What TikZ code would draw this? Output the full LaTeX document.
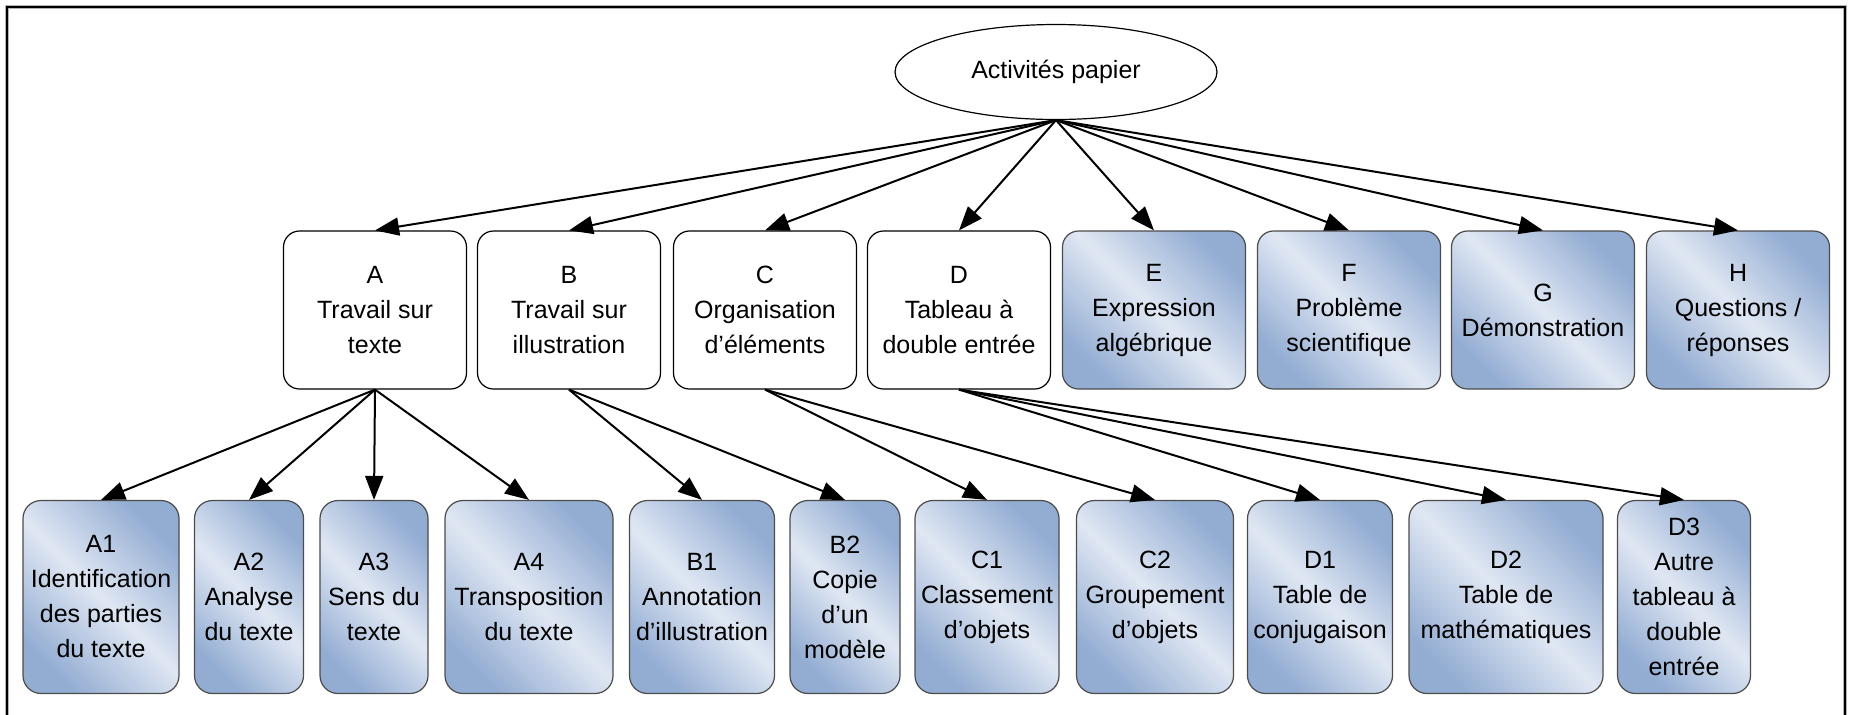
\documentclass[tikz,border=0pt]{standalone}
\usepackage{fontspec}
\setmainfont{Liberation Sans}
\usetikzlibrary{shapes.geometric,arrows.meta}

\newlength{\du}
\setlength{\du}{0.5pt}

\definecolor{boxdark}{RGB}{146,172,210}
\definecolor{boxlight}{RGB}{224,231,243}

\tikzset{
  boxfont/.style={font=\fontsize{12.5}{17.5}\selectfont},
  topnode/.style={ellipse,draw,line width=1.2\du,minimum width=322\du,minimum height=95\du,inner sep=0pt,boxfont},
  catnode/.style={draw,rounded corners=16\du,line width=1.2\du,fill=white,minimum width=183\du,minimum height=158\du,align=center,inner sep=2pt,boxfont},
  subnode/.style={draw=black!70,rounded corners=18\du,line width=1.2\du,top color=boxdark,bottom color=boxdark,middle color=boxlight,minimum height=193\du,align=center,inner sep=2pt,boxfont,shading angle=-45},
  catshaded/.style={subnode,minimum width=183\du,minimum height=158\du,rounded corners=16\du},
  link/.style={-{Triangle[length=12pt,width=9pt]},line width=2\du}
}

\begin{document}
\begin{tikzpicture}
\pgftransformxscale{1.000000}
\pgftransformyscale{-1.000000}
\useasboundingbox (0\du,0\du) rectangle (1850\du,714\du);
% frame
\draw[black!30,line width=4\du] (7\du,720\du) -- (7\du,7\du) -- (1845\du,7\du) -- (1845\du,720\du);
\draw[line width=2.2\du] (7\du,720\du) -- (7\du,7\du) -- (1845\du,7\du) -- (1845\du,720\du);
% root
\node[topnode] (top) at (1056\du,72\du){Activités papier};
% level 1
\node[catnode] (A) at (375\du,310\du){A\\Travail sur\\texte};
\node[catnode] (B) at (569\du,310\du){B\\Travail sur\\illustration};
\node[catnode] (C) at (765\du,310\du){C\\Organisation\\d’éléments};
\node[catnode] (D) at (959\du,310\du){D\\Tableau à\\double entrée};
\node[catshaded] (E) at (1154\du,310\du){E\\Expression\\algébrique};
\node[catshaded] (F) at (1349\du,310\du){F\\Problème\\scientifique};
\node[catshaded] (G) at (1543\du,310\du){G\\Démonstration};
\node[catshaded] (H) at (1738\du,310\du){H\\Questions /\\réponses};
% level 2
\node[subnode,minimum width=156\du] (A1) at (101\du,597\du){A1\\Identification\\des parties\\du texte};
\node[subnode,minimum width=109\du] (A2) at (249\du,597\du){A2\\Analyse\\du texte};
\node[subnode,minimum width=108\du] (A3) at (374\du,597\du){A3\\Sens du\\texte};
\node[subnode,minimum width=168\du] (A4) at (529\du,597\du){A4\\Transposition\\du texte};
\node[subnode,minimum width=145\du] (B1) at (702\du,597\du){B1\\Annotation\\d’illustration};
\node[subnode,minimum width=110\du] (B2) at (845\du,597\du){B2\\Copie\\d’un\\modèle};
\node[subnode,minimum width=144\du] (C1) at (987\du,597\du){C1\\Classement\\d’objets};
\node[subnode,minimum width=157\du] (C2) at (1155\du,597\du){C2\\Groupement\\d’objets};
\node[subnode,minimum width=145\du] (D1) at (1320\du,597\du){D1\\Table de\\conjugaison};
\node[subnode,minimum width=194\du] (D2) at (1506\du,597\du){D2\\Table de\\mathématiques};
\node[subnode,minimum width=133\du] (D3) at (1684\du,597\du){D3\\Autre\\tableau à\\double\\entrée};
% links
\foreach \n in {A,B,C,D,E,F,G,H}
  \draw[link] (top.south) -- (\n.north);
\foreach \n in {A1,A2,A3,A4}
  \draw[link] (A.south) -- (\n.north);
\foreach \n in {B1,B2}
  \draw[link] (B.south) -- (\n.north);
\foreach \n in {C1,C2}
  \draw[link] (C.south) -- (\n.north);
\foreach \n in {D1,D2,D3}
  \draw[link] (D.south) -- (\n.north);
\end{tikzpicture}
\end{document}
